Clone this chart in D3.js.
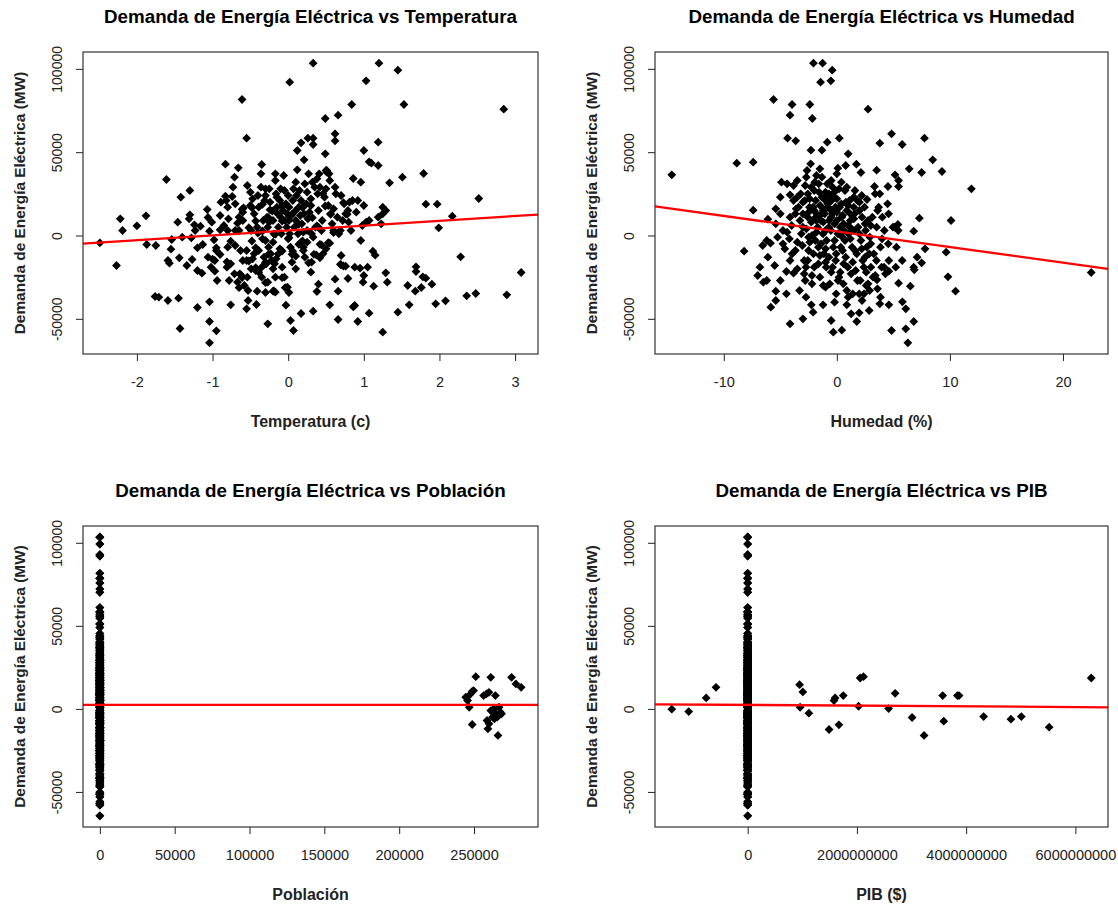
<!DOCTYPE html>
<html>
<head>
<meta charset="utf-8">
<script src="https://cdn.jsdelivr.net/npm/d3@7"></script>
<style>
body{margin:0;background:#fff}
svg{display:block;font-family:"Liberation Sans",Arial,Helvetica,sans-serif}
</style>
</head>
<body>
<div id="chart"></div>
<script>
// Demanda (MW) contra temperatura normalizada (c)
var temperatura = [
 [0.33,103400],[1.20,103400],[1.45,99200],[0.02,92000],[1.03,92800],[-0.61,81600],[0.84,78600],[1.53,78600],[2.85,75800],[0.49,70200],
 [0.66,72200],[-0.55,58400],[0.62,61000],[0.62,56800],[0.26,58400],[0.33,58400],[0.33,54600],[0.17,55600],[1.19,56000],[0.12,51000],
 [1.00,51000],[0.49,49000],[0.21,45400],[1.07,44200],[1.10,43400],[1.19,42000],[-0.83,42800],[-0.66,40600],[-0.35,42600],[0.12,39400],
 [0.51,39000],[-1.61,33600],[1.79,37200],[1.51,35000],[1.34,31600],[0.86,34200],[0.96,32000],[2.52,22200],[1.82,18800],[1.97,18800],
 [2.17,11600],[1.99,4600],[2.28,-12800],[3.08,-22200],[2.89,-35600],[2.48,-34800],[2.36,-36200],[2.08,-39200],[1.95,-41000],[1.90,-29200],
 [1.78,-24800],[1.82,-25600],[1.76,-31200],[1.69,-18800],[1.69,-21600],[1.68,-33400],[1.58,-30000],[1.60,-41600],[1.45,-46000],[1.25,-58000],
 [1.29,-22400],[1.31,-28000],[1.13,-30400],[1.15,-11800],[1.12,-9400],[1.07,-46600],[1.05,-19000],[1.00,-24000],[0.99,-28000],[0.96,-3000],
 [0.92,-51600],[0.88,-42000],[0.86,-42800],[0.95,-19600],[0.88,-19000],[0.79,-25800],[0.76,-18400],[0.70,-17600],[0.66,-50400],[0.66,-33400],
 [0.62,-26200],[0.55,-41600],[0.55,-4600],[0.38,-33600],[0.40,-29200],[0.33,-45400],[0.37,-11600],[0.42,-13400],[0.44,-5600],[0.27,-16400],
 [0.17,-46800],[0.07,-57000],[0.03,-51000],[-0.03,-41800],[0.01,-34200],[-0.01,-31000],[-0.05,-25000],[0.10,-12400],[0.06,-9400],[-0.27,-53000],
 [-0.42,-41400],[-0.30,-34200],[-0.41,-33400],[-0.17,-34000],[-0.20,-33400],[-0.17,-25000],[-0.27,-28000],[-0.55,-44000],[-0.53,-39000],[-0.76,-41600],
 [-0.78,-27000],[-0.95,-57200],[-1.04,-64400],[-1.04,-51600],[-1.04,-39800],[-0.94,-27000],[-1.20,-43200],[-1.43,-55800],[-1.45,-37600],[-1.59,-39000],
 [-1.76,-36600],[-1.71,-37000],[-2.27,-18000],[-2.49,-4400],[-2.19,3000],[-2.22,10000],[-2.00,5800],[-1.88,11800],[-1.87,-5400],[-1.75,-6000],
 [-1.54,-2400],[-1.55,-8200],[-1.59,-15000],[-1.57,-16600],[-1.44,-13400],[-1.46,8000],[-1.42,23000],[-1.30,27000],[-1.30,12400],[-1.31,10000],
 [-1.24,6400],[-1.23,3000],[-1.40,-1000],[-1.28,-1400],[-1.27,-14400],[-1.34,-18000],[-1.20,-7400],[-1.20,-21000],[-1.14,-22600],[-1.13,-5400],
 [-1.07,15600],[-1.06,10800],[-1.01,8000],[-1.04,2600],[-0.98,-2600],[-1.06,-13000],[-1.00,-14200],[-0.97,-15000],[-1.02,-19000],[-0.97,-21400],
 [-0.90,3400],[-0.90,-11400],[-0.89,20000],[-0.83,23600],[-0.82,21000],[-0.80,17000],[-0.79,10000],[-0.80,3000],[-0.76,-3400],[-0.80,-7000],
 [-0.81,-15800],[-0.81,-19000],[-0.74,23400],[-0.73,29000],[-0.71,35000],[-0.70,3000],[-0.67,7400],[-0.65,3000],[-0.63,-9000],[-0.60,-15000],
 [-0.62,-24000],[-0.60,14000],[-0.59,16600],[-0.54,30000],[-0.55,-9000],[-0.55,-15000],[-0.54,-25000],[-0.58,-30000],[-0.53,-33000],[-0.49,3000],
 [-0.47,22000],[-0.47,-14000],[-0.45,13000],[-0.43,-21000],[-0.41,5000],[-0.39,17000],[-0.39,-9000],[-0.36,37000],[-0.36,29000],[-0.35,-19000],
 [-0.34,-2000],[-0.33,9000],[-0.32,-13000],[-0.31,21000],[-0.30,28000],[-0.30,-3000],[-0.28,11000],[-0.27,5000],[-0.26,-7000],[-0.25,28000],
 [-0.24,20000],[-0.24,15400],[-0.22,-15000],[-0.20,9000],[-0.19,1000],[-0.17,37000],[-0.17,33000],[-0.16,25000],[-0.15,17000],[-0.14,13000],
 [-0.13,-11000],[-0.13,5000],[-0.11,21000],[-0.10,11000],[-0.09,1000],[-0.08,-19000],[-0.07,15000],[-0.06,36000],[-0.05,27000],[-0.04,9000],
 [-0.03,19000],[-0.02,5000],[-0.01,13000],[0.01,17000],[0.01,9000],[0.02,1000],[0.03,-7000],[0.04,12000],[0.06,21000],[0.07,28000],
 [0.08,5000],[0.09,14600],[0.10,9000],[0.11,24000],[0.13,1000],[0.14,17000],[0.16,12000],[0.17,-4000],[0.17,21000],[0.18,7000],
 [0.20,-7000],[0.21,13000],[0.22,31000],[0.24,19000],[0.25,3000],[0.26,10000],[0.27,37000],[0.28,14000],[0.30,22000],[0.31,1000],
 [0.32,32000],[0.33,-1000],[0.35,29000],[0.36,5000],[0.38,34000],[0.39,25000],[0.40,5000],[0.41,37000],[0.42,29000],[0.44,3000],
 [0.46,25000],[0.48,23000],[0.50,39000],[0.51,38000],[0.53,18000],[0.54,37000],[0.55,33000],[0.56,13000],[0.58,7000],[0.60,3000],
 [0.62,29000],[0.63,25000],[0.67,1000],[0.69,3000],[0.72,9000],[0.74,19000],[0.76,13000],[0.79,15000],[0.81,20000],[0.83,3000],
 [0.85,21000],[0.92,21000],[1.03,8000],[1.07,9000],[1.19,11000],[1.23,7000],[1.25,17000],[1.29,15000],[1.25,13000],[0.98,6000],
 [-1.16,5600],[-0.95,-7400],[-0.76,-17000],[-0.71,-23000],[-0.67,-28000],[-0.64,-23000],[-0.49,-20000],[-0.39,-22000],[-0.35,-25000],[-0.29,-17000],
 [-0.23,-11000],[-0.18,-17000],[-0.16,-14000],[-0.11,-8000],[0.20,-9000],[0.22,-13000],[0.25,-4000],[0.31,-16000],[0.46,-11000],
 [-0.61,15700],[-0.48,16700],[-0.34,18700],[-0.21,14700],[-0.08,17700],[0.05,12700],[0.19,16700],[0.32,10700],[-0.43,8700],[-0.26,10700],
 [-0.08,8700],[0.14,6700],[-0.52,4700],[-0.34,2700],[-0.17,700],[0.01,-1300],[0.19,-3300],[-0.48,-3300],[-0.43,-7300],[-0.26,-11300],
 [-0.08,-9300],[0.05,-11300],[-0.52,-15300],[-0.43,-19300],[-0.61,-25300],[-0.65,-31300],[-0.30,-28300],[-0.19,-33300],[-0.08,-25300],[-0.04,-31300],
 [0.14,-5300],[0.49,17700],[0.73,19700],[0.56,12700],[0.78,12700],[0.38,5700],[0.60,1700],[0.42,-5300],[0.53,-4300],[0.34,-11300],
 [0.69,-17300],[0.73,-18300],
 [-0.90,12000],[-0.70,19000],[-0.50,26000],[-0.30,24000],[-0.10,28000],[0.10,32000],[0.30,18000],[0.50,28000],[0.70,24000],[0.90,14000],
 [-0.85,6000],[-0.60,9000],[-0.40,1500],[-0.20,-4000],[0.00,-2000],[0.20,2000],[0.40,15000],[0.60,16000],[0.80,8000],[1.00,18000],
 [-0.70,-6000],[-0.45,-11000],[-0.20,-20000],[0.05,-16000],[0.30,-22000],[0.50,-8000],[0.70,-12000],[-0.95,-9000],[-0.15,23000],[0.15,27000],
 [-0.50,18000],[-0.25,8000],[0.00,24000],[0.25,26000],[0.45,9000],[0.65,11000],[-0.65,11000],[-0.40,24000],[0.10,-20000],[-0.30,-16000]
]

// Demanda (MW) contra humedad normalizada (%)
var humedad = [
 [-14.6,36400],[-8.85,43400],[-7.4,44000],[-7.4,15200],[-8.2,-9400],[-5.6,81600],[-3.96,78600],[-4.14,72200],[-4.36,58400],[-3.64,56800],
 [-2.07,103400],[-1.26,103400],[-0.41,99200],[-1.44,92000],[-0.53,92800],[-2.39,78600],[-2.17,70200],[2.76,75800],[0.22,58400],[-0.85,56000],
 [-1.32,51200],[-2.29,51200],[1.0,49000],[0.78,42000],[1.73,42800],[2.13,37800],[0.09,40400],[0,37000],[3.8,55400],[4.84,61000],
 [5.78,54600],[7.75,58400],[8.48,45400],[6.4,40000],[7.5,37800],[9.3,38400],[11.9,28000],[3.52,39200],[5.15,36400],[5.46,33000],
 [5.46,29400],[4.52,29400],[3.33,29400],[7.3,10400],[10.1,9000],[9.67,-10000],[9.83,-24800],[10.5,-33400],[22.5,-22200],[6.8,2600],
 [7.5,-16400],[7.8,-8000],[7.1,-13000],[6.85,-20600],[6.8,-19000],[6.5,-30400],[6.8,-51600],[6.1,-56000],[6.28,-64400],[6.1,-44000],
 [5.8,-39800],[5.46,-28600],[5.78,-15000],[4.84,-57000],[4.6,-41600],[4.6,-15000],[4.55,-5000],[5.27,-7000],[5.1,5000],[5.4,6600],
 [4.3,-23000],[4.6,-21400],[3.8,-41000],[3.86,-37000],[3.55,-26600],[3.4,-24000],[2.86,-45000],[2.9,-33000],[2.6,-30000],[2.23,-39000],
 [1.98,-46400],[1.76,-51600],[1.26,-47000],[0.88,-41600],[0.44,-56800],[-0.31,-58000],[-0.5,-51000],[-1.22,-41600],[-2.1,-46000],[-2.26,-41600],
 [-2.73,-37000],[-3.0,-50000],[-4.14,-53000],[-4.46,-35000],[-3.83,-22600],[-4.46,-21600],[-5.0,-27000],[-5.4,-33400],[-5.4,-39000],[-5.84,-43000],
 [-5.5,-18000],[-6.1,-13000],[-6.8,-19000],[-7.0,-24000],[-6.5,-28000],[-6.2,-27000],[-6.56,-6000],[-6.2,-3000],[-5.87,-4600],[-6.1,9800],
 [-5.4,7000],[-5.24,-1000],[-4.77,-5000],[-5.4,16000],[-5.0,13000],[-5.0,23000],[-4.9,32000],[-4.4,31000],[-4.14,24400],[-4.77,3000],
 [-4.4,2000],[-4.14,-15000],[-3.96,-11000],[-3.67,-9000],[-4.14,11000],[-3.67,13000],[-3.83,30000],[-3.5,33000],[-3.39,17000],[-3.26,9000],
 [-3.14,1000],[-3.05,-6000],[-2.89,-15000],[-2.73,-19000],[-2.7,35000],[-2.64,39000],[-2.57,25000],[-2.42,17000],[-2.32,43000],[-2.26,8000],
 [-2.2,0],[-2.07,-11000],[-2.0,-19000],[-1.95,32000],[-1.88,21000],[-1.79,13000],[-1.7,5000],[-1.63,-7000],[-1.57,26000],[-1.48,18000],
 [-1.41,9000],[-1.32,35000],[-1.22,1000],[-1.16,-11000],[-1.07,13000],[-1.0,21000],[-0.94,-19000],[-0.91,-3000],[-0.85,31000],[-0.75,17000],
 [-0.69,9000],[-0.63,-29000],[-0.53,3000],[-0.47,21000],[-0.38,13000],[-0.31,-7000],[-0.22,26000],[-0.13,17000],[-0.06,-11000],[0,9000],
 [0.09,1000],[0.19,-25000],[0.25,17000],[0.35,-7000],[0.44,11000],[0.57,-29000],[0.63,3000],[0.72,27000],[0.78,-13000],[0.88,15000],
 [0.97,-19000],[1.04,1000],[1.13,21000],[1.19,9000],[1.26,-23000],[1.35,-7000],[1.41,-35000],[1.51,3000],[1.57,13000],[1.66,-21000],
 [1.76,-11000],[1.82,21000],[1.88,5000],[1.98,-35000],[2.07,-27000],[2.13,-3000],[2.23,11000],[2.29,-15000],[2.39,-19000],[2.45,17000],
 [2.54,3000],[2.64,-7000],[2.67,21600],[2.76,9000],[2.86,-11000],[2.92,-1000],[3.01,-19000],[3.14,11000],[3.27,-11000],[3.39,25000],
 [3.52,5000],[3.61,15000],[3.7,17000],[3.8,25000],[3.86,-7000],[3.96,-19000],[4.02,11000],[4.18,-19000],[4.49,19000],[4.58,13000],
 [4.96,5000],[5.21,-19000],[5.43,3000],[-3.83,21000],[-3.2,25000],[-2.83,21000],[-2.26,29000],[-2.57,11000],[-2.1,17000],[-1.32,23000],
 [-0.69,25000],[-0.38,29000],[0.88,29000],[1.51,23000],[1.19,13000],[0.72,-3000],[-2.89,-23000],[-2.57,-15000],[-1.63,-17000],[-0.38,-19000],
 [-1.0,-31000],[-0.06,-35000],[0.88,-33000],[1.82,-27000],[2.76,-29000],[-2.0,27000],[-1.6,31000],[-1.2,15000],[-0.8,19000],[-0.5,11000],
 [-0.2,7000],[0.3,5000],[0.5,-1000],[-1.9,-3000],[-2.5,-9000],[-1.4,-5000],[-0.7,-13000],[-0.1,-15000],[0.6,-17000],[1.6,-9000],
 [2.0,1000],[2.5,7000],[3.0,-5000],[-3.5,-4000],[-4.0,6000],[-3.0,13000],[-2.7,4000],[-1.0,3000],[-0.3,23000],[0.4,19000],
 [1.5,17000],[2.0,15000],[-1.8,9000],[-2.8,30000],[-1.5,-25000],[-2.2,-29000],[-3.3,-33000],[0.1,-27000],[1.0,-37000],[2.4,-35000],[3.2,-25000],
 [-3.0,20000],[-2.5,14000],[-2.0,10000],[-1.5,12000],[-1.0,16000],[-0.5,15000],[0,14000],[0.5,12000],[1.0,18000],[-1.2,8000],
 [-0.7,5000],[-1.8,2000],[-2.4,-4000],[-1.0,-8000],[-0.2,-3000],[0.6,7000],[1.3,4000],[2.2,-8000],[3.0,6000],[-3.6,16000],
 [-4.2,-2000],[-3.5,-20000],[-2.2,-24000],[-1.2,-30000],[0.3,-22000],[1.4,-16000],[2.6,-22000],[3.5,-15000],[4.2,3000],[-0.5,33000],
 [-1.5,40000],[0.4,32000],[1.6,27000],[-2.4,22000],
 [-3.0,5000],[-2.0,15000],[-1.0,26000],[0,22000],[1.0,6000],[2.0,20000],[-2.5,-1000],[-1.5,-12000],[-0.5,-22000],[0.5,-9000],
 [1.5,10000],[2.5,-13000],[-3.5,23000],[-1.0,-16000],[0.2,28000],[-1.8,36000],[1.2,-2000],[2.2,24000],[-2.8,-27000],[-0.2,-40000],
 [3.6,-32000],[-4.6,-8000],[4.0,-2000],[-0.8,24000],[0.8,20000]
]

// Observaciones con poblacion sin normalizar (habitantes, MW)
var poblacionAlta = [
 [244500,7000],[245700,5000],[246800,1000],[247300,8600],[248800,10600],[249700,11000],[248800,-9400],[251200,19400],[256400,8000],[258300,9000],
 [260000,10000],[261200,19000],[258700,-7000],[259300,-12000],[260000,-9000],[261200,-1000],[262400,-5000],[263100,0],[263600,-6000],[264300,8000],
 [264800,-3000],[265500,-5000],[266000,-16000],[266700,1000],[267700,-2000],[268400,-3000],[275100,19000],[278000,15000],[281500,13000]
]

// Observaciones con PIB sin normalizar ($, MW)
var pibDisperso = [
 [-1.39e9,-200],[-1.08e9,-1600],[-0.76e9,6600],[-0.58e9,13000],[0.95e9,14600],[0.96e9,1000],[1.01e9,10200],[1.12e9,-2600],[1.49e9,-12400],[1.58e9,5000],
 [1.60e9,6600],[1.67e9,-9600],[1.75e9,8000],[2.03e9,1600],[2.06e9,18600],[2.12e9,19400],[2.58e9,200],[2.70e9,9400],[3.01e9,-5200],[3.23e9,-16000],
 [3.57e9,8000],[3.59e9,-7400],[3.84e9,8000],[3.87e9,8000],[4.32e9,-4600],[4.82e9,-6200],[5.01e9,-4600],[5.52e9,-11000],[6.29e9,18600]
]

var ticksDemanda = [-50000, 0, 50000, 100000]
var ticksTemp = [-2, -1, 0, 1, 2, 3]
var ticksHum = [-10, 0, 10, 20]
var ticksPob = [0, 50000, 100000, 150000, 200000, 250000]
var ticksPib = [0, 2e9, 4e9, 6e9]

// rectas ajustadas: [intercepto, pendiente]
var rectaTemp = [3000, 2900]
var rectaHum = [2400, -934]
var rectaPob = [2400, 0]
var rectaPib = [2400, -2.2e-7]

// poblacion y PIB normalizados quedan ~0 para casi todas las observaciones
var demanda = temperatura.concat(humedad).map(function(d){ return d[1] })
var enCero = demanda.map(function(v){ return [0, v] })

var W = 1118, H = 907
var svg = d3.select('#chart').append('svg')
    .attr('width', W)
    .attr('height', H)

var rombo = 'M0,-4.4L4.4,0L0,4.4L-4.4,0Z'

// rango como en R: extremos de los datos +/- 4%
function RRange(vals){
    var e = d3.extent(vals)
    var pad = (e[1] - e[0]) * 0.04
    return [e[0] - pad, e[1] + pad]
}
function Fmt(v){ return String(v) }

function Panel(id, box, puntos, xticks, titulo, xlab, recta){
    var x = d3.scaleLinear()
	.domain(RRange(puntos.map(function(d){ return d[0] })))
	.range([box.x0, box.x1])
    var y = d3.scaleLinear()
	.domain(RRange(puntos.map(function(d){ return d[1] })))
	.range([box.y1, box.y0])

    var g = svg.append('g').attr('id', id)

    g.append('clipPath')
	.attr('id', 'clip-' + id)
	.append('rect')
	.attr('x', box.x0)
	.attr('y', box.y0)
	.attr('width', box.x1 - box.x0)
	.attr('height', box.y1 - box.y0)

    g.append('g')
	.selectAll('path')
	.data(puntos)
	.join('path')
	.attr('d', rombo)
	.attr('fill', '#000')
	.attr('transform', function(d){ return 'translate(' + x(d[0]) + ',' + y(d[1]) + ')' })

    var dx = x.domain()
    g.append('line')
	.attr('clip-path', 'url(#clip-' + id + ')')
	.attr('x1', x(dx[0]))
	.attr('x2', x(dx[1]))
	.attr('y1', y(recta[0] + recta[1] * dx[0]))
	.attr('y2', y(recta[0] + recta[1] * dx[1]))
	.style('stroke', '#ff0000')
	.style('stroke-width', 2.3)

    var ax = g.append('g')
	.attr('transform', 'translate(0,' + box.y1 + ')')
	.call(d3.axisBottom(x).tickValues(xticks).tickFormat(Fmt)
	      .tickSizeInner(7).tickSizeOuter(0).tickPadding(16))
    ax.select('.domain').remove()
    ax.attr('font-size', null).attr('font-family', null)
    ax.selectAll('line').style('stroke', '#222')
    ax.selectAll('text').style('font-size', '14.5px').style('fill', '#222')

    var ay = g.append('g')
	.attr('transform', 'translate(' + box.x0 + ',0)')
	.call(d3.axisLeft(y).tickValues(ticksDemanda).tickFormat(Fmt)
	      .tickSizeInner(7).tickSizeOuter(0))
    ay.select('.domain').remove()
    ay.attr('font-size', null).attr('font-family', null)
    ay.selectAll('line').style('stroke', '#222')
    // etiquetas paralelas al eje, como las dibuja R
    ay.selectAll('text')
	.attr('transform', 'rotate(-90)')
	.attr('x', 0)
	.attr('y', -26)
	.attr('dy', '0.36em')
	.attr('text-anchor', 'middle')
	.style('font-size', '14px')
	.style('fill', '#222')

    var cx = (box.x0 + box.x1) / 2
    var cy = (box.y0 + box.y1) / 2
    g.append('text')
	.attr('x', cx)
	.attr('y', box.y0 - 29)
	.attr('text-anchor', 'middle')
	.style('font-weight', 'bold')
	.style('font-size', '18.8px')
	.text(titulo)
    g.append('text')
	.attr('x', cx)
	.attr('y', box.y1 + 72.5)
	.attr('text-anchor', 'middle')
	.style('font-weight', 'bold')
	.style('font-size', '16px')
	.style('fill', '#222')
	.text(xlab)
    g.append('text')
	.attr('transform', 'translate(' + (box.x0 - 58.5) + ',' + cy + ') rotate(-90)')
	.attr('text-anchor', 'middle')
	.style('font-weight', 'bold')
	.style('font-size', '15.4px')
	.style('fill', '#222')
	.text('Demanda de Energía Eléctrica (MW)')

    g.append('rect')
	.attr('x', box.x0)
	.attr('y', box.y0)
	.attr('width', box.x1 - box.x0)
	.attr('height', box.y1 - box.y0)
	.attr('fill', 'none')
	.style('stroke', '#333')
	.style('stroke-width', 1.2)
}

Panel('temp', {x0:83, x1:538, y0:52, y1:354}, temperatura, ticksTemp,
      'Demanda de Energía Eléctrica vs Temperatura', 'Temperatura (c)', rectaTemp)
Panel('hum', {x0:655, x1:1108, y0:52, y1:354}, humedad, ticksHum,
      'Demanda de Energía Eléctrica vs Humedad', 'Humedad (%)', rectaHum)
Panel('pob', {x0:83, x1:538, y0:526, y1:827}, enCero.concat(poblacionAlta), ticksPob,
      'Demanda de Energía Eléctrica vs Población', 'Población', rectaPob)
Panel('pib', {x0:655, x1:1108, y0:526, y1:827}, enCero.concat(pibDisperso), ticksPib,
      'Demanda de Energía Eléctrica vs PIB', 'PIB ($)', rectaPib)
</script>
</body>
</html>
